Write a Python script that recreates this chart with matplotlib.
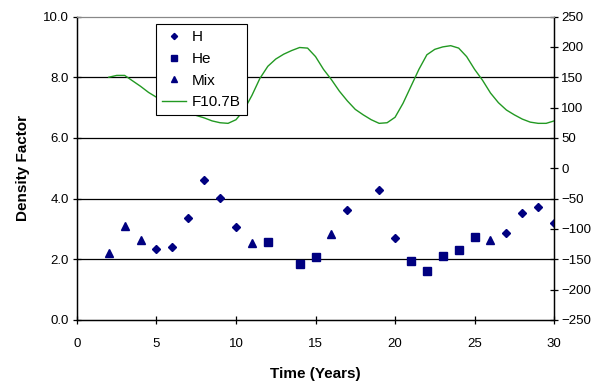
import matplotlib.pyplot as plt

plt.rcParams['font.family'] = ['Liberation Sans', 'DejaVu Sans']

# density factor points, by type
h_years = [5, 6, 7, 8, 9, 10, 17, 19, 20, 27, 28, 29, 30]
h_vals = [2.33, 2.42, 3.37, 4.60, 4.02, 3.05, 3.61, 4.27, 2.70, 2.88, 3.53, 3.73, 3.18]
he_years = [12, 14, 15, 21, 22, 23, 24, 25]
he_vals = [2.57, 1.84, 2.07, 1.95, 1.62, 2.12, 2.29, 2.72]
mix_years = [2, 3, 4, 11, 16, 26]
mix_vals = [2.22, 3.10, 2.63, 2.55, 2.82, 2.63]

f107_years = [2 + 0.5 * i for i in range(57)]
f107_vals = [150, 153, 153, 144, 135, 125, 117, 110, 103, 96, 91, 87, 83, 78, 75, 74,
             80, 96, 120, 148, 168, 180, 188, 194, 199, 198, 184, 163, 146, 127, 111,
             97, 88, 80, 74, 75, 84, 107, 135, 163, 187, 196, 200, 202, 198, 184, 163,
             145, 124, 108, 96, 88, 81, 76, 74, 74, 78]

navy = '#000080'
green = '#229922'

fig = plt.figure(figsize=(5.92, 3.85), dpi=100)
ax = fig.add_axes([0.130, 0.169, 0.806, 0.788])
ax2 = ax.twinx()

for y in [2, 4, 6, 8]:
    ax.axhline(y, color='black', lw=0.9, zorder=0)

ax.plot(h_years, h_vals, 'D', color=navy, ms=4.5, label='H', zorder=3)
ax.plot(he_years, he_vals, 's', color=navy, ms=5.5, label='He', zorder=3)
ax.plot(mix_years, mix_vals, '^', color=navy, ms=6, label='Mix', zorder=3)
ax2.plot(f107_years, f107_vals, '-', color=green, lw=1.0, label='F10.7B')

ax.set_xlim(0, 30)
ax.set_ylim(0, 10)
ax2.set_ylim(-250, 250)
ax.set_xticks(range(0, 31, 5))
ax.set_yticks(range(0, 11, 2))
ax.set_yticklabels([f'{v:.1f}' for v in range(0, 11, 2)])
ax2.set_yticks(range(-250, 251, 50))

ax.tick_params(axis='y', direction='inout', length=6, width=0.9, labelsize=9.5, pad=3)
ax.tick_params(axis='x', direction='inout', length=6, width=0.9, labelsize=9.5, pad=10)
ax2.tick_params(direction='inout', length=6, width=0.9, labelsize=9.5, pad=2)

ax.set_xlabel('Time (Years)', fontsize=11, fontweight='bold', labelpad=12)
ax.set_ylabel('Density Factor', fontsize=11, fontweight='bold', labelpad=9)

for a in (ax, ax2):
    a.spines['top'].set_color('#888888')
    for s in ('left', 'right', 'bottom'):
        a.spines[s].set_linewidth(0.9)

h1, l1 = ax.get_legend_handles_labels()
h2, l2 = ax2.get_legend_handles_labels()
leg = ax2.legend(h1 + h2, l1 + l2, loc='upper left', bbox_to_anchor=(0.165, 0.975),
                 fontsize=11, frameon=True, fancybox=False, framealpha=1,
                 edgecolor='black', handlelength=1.6, handletextpad=0.35,
                 labelspacing=0.5, borderpad=0.4, borderaxespad=0,
                 markerscale=0.7)
leg.get_frame().set_linewidth(0.8)

plt.savefig('out.png', dpi=100)
